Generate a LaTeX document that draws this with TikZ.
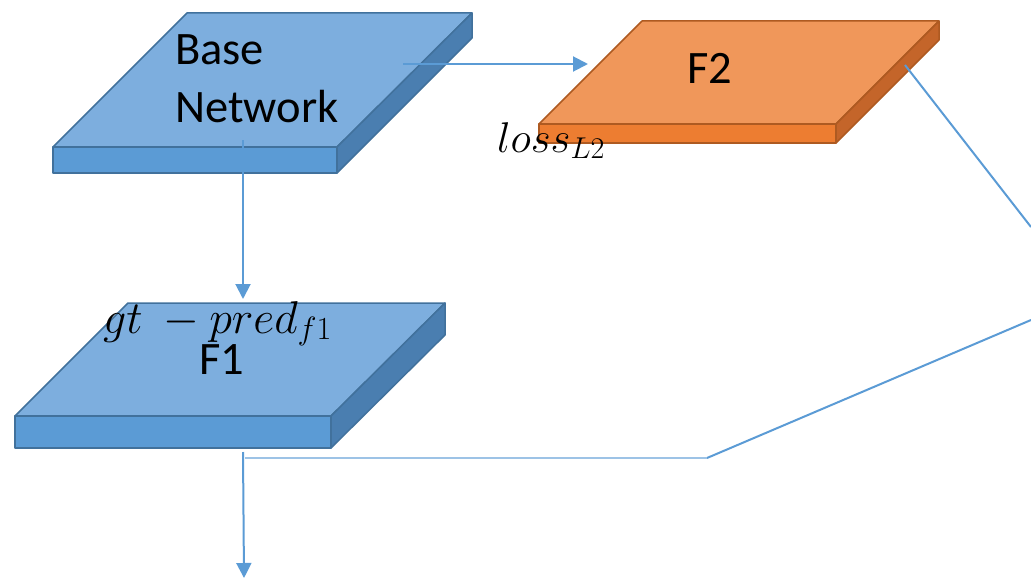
\documentclass[tikz,border=0pt]{standalone}
\usepackage{fix-cm}
\usepackage{fontspec}
\setmainfont{Carlito}
\usetikzlibrary{arrows.meta}
\definecolor{bluetop}{HTML}{7DAEDE}
\definecolor{bluefront}{HTML}{5B9BD5}
\definecolor{blueside}{HTML}{4A7EB0}
\definecolor{bluestroke}{HTML}{41719C}
\definecolor{orangetop}{HTML}{F0975A}
\definecolor{orangefront}{HTML}{ED7D31}
\definecolor{orangeside}{HTML}{C4652A}
\definecolor{orangestroke}{HTML}{AE5A21}
\definecolor{conn}{HTML}{5B9BD5}
\definecolor{connlight}{HTML}{9DC3E6}
\begin{document}
\begin{tikzpicture}[x=1pt,y=-1pt,line join=round,
  bslab/.style={draw=bluestroke,line width=1.5pt},
  oslab/.style={draw=orangestroke,line width=1.5pt},
  lbl/.style={inner sep=0pt,font=\fontsize{46.5}{56}\selectfont},
  mlbl/.style={inner sep=0pt,font=\fontsize{43}{52}\selectfont},
  link/.style={draw=conn,line width=2pt},
  arr/.style={link,-{Triangle[length=15pt,width=15pt]}}]
\useasboundingbox (0,0) rectangle (1031,578);
% Base Network slab
\filldraw[bslab,fill=bluetop] (53,147) -- (187,13) -- (472,13) -- (337,147) -- cycle;
\filldraw[bslab,fill=bluefront] (53,147) rectangle (337,173);
\filldraw[bslab,fill=blueside] (337,147) -- (472,13) -- (472,38) -- (337,173) -- cycle;
% F2 slab
\filldraw[oslab,fill=orangetop] (539,124) -- (642,21) -- (939,21) -- (836,124) -- cycle;
\filldraw[oslab,fill=orangefront] (539,124) rectangle (836,143);
\filldraw[oslab,fill=orangeside] (836,124) -- (939,21) -- (939,40) -- (836,143) -- cycle;
% F1 slab
\filldraw[bslab,fill=bluetop] (15,416) -- (128,303) -- (445,303) -- (331,416) -- cycle;
\filldraw[bslab,fill=bluefront] (15,416) rectangle (331,448);
\filldraw[bslab,fill=blueside] (331,416) -- (445,303) -- (445,335) -- (331,448) -- cycle;
% labels
\node[lbl,anchor=base west] (basetxt) at (175,65) {Base};
\node[lbl,anchor=base west] (nettxt) at (175,122) {Network};
\node[lbl,anchor=base] (f2txt) at (710,84) {F2};
\node[lbl,anchor=base] (f1txt) at (222,374) {F1};
\node[mlbl,anchor=base west] (loss) at (497,152) {$loss_{L2}$};
\node[mlbl,anchor=base west,font=\fontsize{46}{54}\selectfont] (gtp) at (103,333) {$gt\ -pred_{f1}$};
% connector points
\coordinate (baseR) at (403,64);
\coordinate (f2L) at (588,64);
\coordinate (baseB) at (243,140);
\coordinate (f1T) at (243,299);
\coordinate (f2R) at (905,65);
\coordinate (edgeA) at (1031,227);
\coordinate (edgeB) at (1031,320);
\coordinate (bend) at (707,458);
\coordinate (f1join) at (245,458);
\coordinate (f1B) at (243,452);
\coordinate (outB) at (244,578);
% connectors
\draw[arr] (baseR) -- (f2L);
\draw[arr] (baseB) -- (f1T);
\draw[link] (f2R) -- (edgeA);
\draw[link] (edgeB) -- (bend);
\draw[draw=connlight,line width=1.8pt] (bend) -- (f1join);
\draw[arr] (f1B) -- (outB);
\end{tikzpicture}
\end{document}
